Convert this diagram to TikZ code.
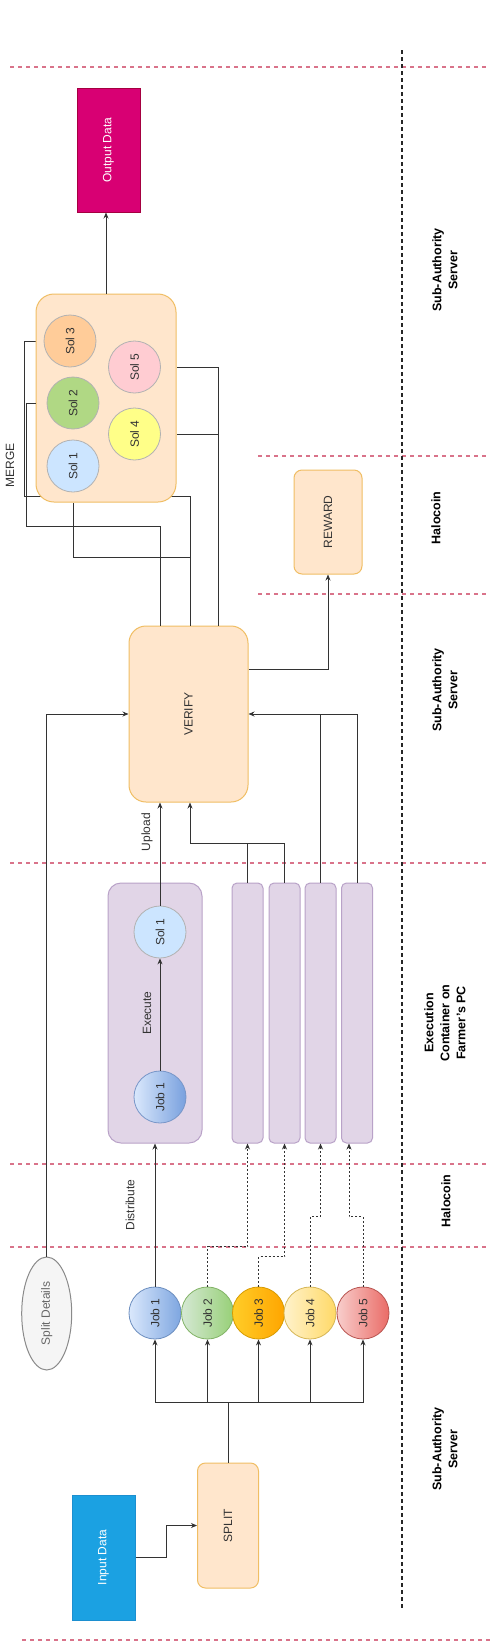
\documentclass[tikz,border=0pt]{standalone}
\usepackage{fontspec}
\setmainfont{Liberation Sans}
\usepackage{graphicx}
\usetikzlibrary{arrows.meta,backgrounds,shapes.geometric}
\definecolor{txt}{HTML}{333333}
\definecolor{outFill}{HTML}{D80073}
\definecolor{outDraw}{HTML}{A50040}
\definecolor{inFill}{HTML}{1BA1E2}
\definecolor{inDraw}{HTML}{1C8FD0}
\definecolor{orFill}{HTML}{FFE6CC}
\definecolor{orDraw}{HTML}{F0BE64}
\definecolor{puFill}{HTML}{E1D5E7}
\definecolor{puDraw}{HTML}{B9A2C8}
\definecolor{redDash}{HTML}{D9738A}
\definecolor{sdFill}{HTML}{F5F5F5}
\definecolor{sdDraw}{HTML}{8A8A8A}
\begin{document}
\begin{tikzpicture}[x=1pt,y=-1pt,
  conn/.style={draw=txt, line width=0.9pt},
  arr/.style={conn, -{Stealth[length=6pt,width=5pt]}},
  dsh/.style={draw=txt, line width=0.8pt, dash pattern=on 2pt off 2pt, -{Stealth[length=6pt,width=5pt]}},
  box/.style={draw, line width=1pt, inner sep=0pt, font=\fontsize{12}{14}\selectfont, text=txt},
  jobc/.style={circle, draw, minimum size=52pt, inner sep=0pt, line width=0.8pt, font=\fontsize{12}{14}\selectfont, text=txt},
  solc/.style={circle, draw=black!30, minimum size=52pt, inner sep=0pt, line width=0.8pt, font=\fontsize{12}{14}\selectfont, text=txt},
  lbl/.style={rotate=90, inner sep=0pt, font=\fontsize{12}{14}\selectfont, text=txt},
  side/.style={rotate=90, inner sep=0pt, align=center, font=\bfseries\fontsize{12.5}{16}\selectfont, text=black},
  reddash/.style={draw=redDash, line width=1.6pt, dash pattern=on 4pt off 4pt},
  blackdash/.style={draw=black!85, line width=1.6pt, dash pattern=on 3.5pt off 3.5pt}
]
\useasboundingbox (0,0) rectangle (495,1649);

% swimlane separators
\draw[reddash] (10,67) -- (488,67);
\draw[reddash] (258,456) -- (487,456);
\draw[reddash] (258,594) -- (487,594);
\draw[reddash] (10,863) -- (488,863);
\draw[reddash] (10,1164) -- (488,1164);
\draw[reddash] (10,1247) -- (488,1247);
\draw[reddash] (22,1640) -- (490,1640);
\draw[blackdash] (402,50) -- (402,1608);

% lane labels
\node[side] (l1) at (445,270) {Sub-Authority\\Server};
\node[side] (l2) at (436,518) {Halocoin};
\node[side] (l3) at (445,690) {Sub-Authority\\Server};
\node[side] (l4) at (445,1023) {Execution\\Container on\\Farmer's PC};
\node[side] (l5) at (446,1201) {Halocoin};
\node[side] (l6) at (445,1449) {Sub-Authority\\Server};

% nodes
\node[box, fill=outFill, draw=outDraw, text=white, minimum width=63pt, minimum height=124pt] (out) at (108.5,150) {\rotatebox{90}{Output Data}};
\node[box, fill=orFill, draw=orDraw, rounded corners=18pt, minimum width=140pt, minimum height=208pt] (merge) at (106,398) {};
\node[solc, fill={rgb,255:red,255;green,204;blue,153}] (ms3) at (70,341) {\rotatebox{90}{Sol 3}};
\node[solc, fill={rgb,255:red,176;green,216;blue,132}] (ms2) at (73,403) {\rotatebox{90}{Sol 2}};
\node[solc, fill={rgb,255:red,204;green,229;blue,255}] (ms1) at (73,466) {\rotatebox{90}{Sol 1}};
\node[solc, fill={rgb,255:red,255;green,204;blue,210}] (ms5) at (134.5,367) {\rotatebox{90}{Sol 5}};
\node[solc, fill={rgb,255:red,255;green,255;blue,136}] (ms4) at (134.5,434) {\rotatebox{90}{Sol 4}};
\node[lbl] (mergelbl) at (10,465) {MERGE};

\node[box, fill=orFill, draw=orDraw, rounded corners=8pt, minimum width=68pt, minimum height=104pt] (reward) at (328,522) {\rotatebox{90}{REWARD}};
\node[box, fill=orFill, draw=orDraw, rounded corners=17pt, minimum width=119pt, minimum height=176pt] (verify) at (188.5,714) {\rotatebox{90}{VERIFY}};

\node[box, fill=puFill, draw=puDraw, rounded corners=13pt, minimum width=94pt, minimum height=260pt] (exec) at (155,1013) {};
\node[jobc, draw={rgb,255:red,120;green,150;blue,200}, left color={rgb,255:red,218;green,232;blue,252}, right color={rgb,255:red,120;green,160;blue,222}] (ij1) at (160,1097) {\rotatebox{90}{Job 1}};
\node[solc, fill={rgb,255:red,204;green,229;blue,255}] (is1) at (160,932) {\rotatebox{90}{Sol 1}};
\node[lbl] (exlbl) at (147,1013) {Execute};
\node[lbl] (uplbl) at (147,832) {Upload};

\node[box, fill=puFill, draw=puDraw, rounded corners=5pt, minimum width=31pt, minimum height=260pt] (b1) at (247.5,1013) {};
\node[box, fill=puFill, draw=puDraw, rounded corners=5pt, minimum width=31pt, minimum height=260pt] (b2) at (284.5,1013) {};
\node[box, fill=puFill, draw=puDraw, rounded corners=5pt, minimum width=31pt, minimum height=260pt] (b3) at (320.5,1013) {};
\node[box, fill=puFill, draw=puDraw, rounded corners=5pt, minimum width=31pt, minimum height=260pt] (b4) at (357,1013) {};

\node[lbl] (distlbl) at (130,1205) {Distribute};
\node[box, ellipse, fill=sdFill, draw=sdDraw, text=black!60, minimum width=50pt, minimum height=113pt] (sd) at (46.7,1313.5) {\rotatebox{90}{Split Details}};

\node[jobc, draw={rgb,255:red,108;green,142;blue,191}, left color={rgb,255:red,218;green,232;blue,252}, right color={rgb,255:red,126;green,166;blue,224}] (j1) at (155,1313) {\rotatebox{90}{Job 1}};
\node[jobc, draw={rgb,255:red,130;green,179;blue,102}, left color={rgb,255:red,213;green,232;blue,212}, right color={rgb,255:red,151;green,208;blue,119}] (j2) at (207.5,1313) {\rotatebox{90}{Job 2}};
\node[jobc, draw={rgb,255:red,215;green,155;blue,0}, left color={rgb,255:red,255;green,205;blue,40}, right color={rgb,255:red,255;green,165;blue,0}] (j3) at (258.5,1313) {\rotatebox{90}{Job 3}};
\node[jobc, draw={rgb,255:red,214;green,182;blue,86}, left color={rgb,255:red,255;green,242;blue,204}, right color={rgb,255:red,255;green,217;blue,102}] (j4) at (310,1313) {\rotatebox{90}{Job 4}};
\node[jobc, draw={rgb,255:red,184;green,84;blue,80}, left color={rgb,255:red,248;green,206;blue,204}, right color={rgb,255:red,234;green,107;blue,102}] (j5) at (363,1313) {\rotatebox{90}{Job 5}};

\node[box, fill=orFill, draw=orDraw, rounded corners=8pt, minimum width=61pt, minimum height=125pt] (split) at (228,1525.5) {\rotatebox{90}{SPLIT}};
\node[box, fill=inFill, draw=inDraw, text=white, minimum width=63pt, minimum height=125pt] (inp) at (103.5,1557.5) {\rotatebox{90}{Input Data}};
\coordinate (bus) at (228,1402);
\coordinate (m12) at (190,843);

% connectors
\draw[arr] (inp.east) -- ++(31,0) |- (split.west);
\draw[conn] (split.north) -- (bus);
\draw[arr] (bus) -| (j1.south);
\draw[arr] (bus) -| (j2.south);
\draw[arr] (bus) -| (j3.south);
\draw[arr] (bus) -| (j4.south);
\draw[arr] (bus) -| (j5.south);

\draw[arr] (j1.north) -- (j1.north |- exec.south);
\draw[dsh] (j2.north) -- ++(0,-40) -| (b1.south);
\draw[dsh] (j3.north) -- ++(0,-30) -| (b2.south);
\draw[dsh] (j4.north) -- ++(0,-70) -| (b3.south);
\draw[dsh] (j5.north) -- ++(0,-70) -| ([xshift=-8pt]b4.south);

\draw[arr] (ij1.north) -- (is1.south);
\draw[arr] (is1.north) -- (is1.north |- verify.south);
\draw[conn] (b1.north) -- (b1.north |- m12);
\draw[arr] (b2.north) |- (m12) -- (m12 |- verify.south);
\draw[conn] (b3.north) -- (b3.north |- verify.east);
\draw[arr] (b4.north) |- (verify.east);
\draw[arr] (sd.north) |- (verify.west);
\draw[arr] ([yshift=45pt]verify.east) -| (reward.south);

\begin{pgfonlayer}{background}
\fill[white] (0,0) rectangle (495,1649);
\draw[conn] ([xshift=1.5pt]verify.north) -- ++(0,-129) -- ++(-166,0) |- (merge.west |- ms3);
\end{pgfonlayer}
\draw[conn] ([xshift=-28.5pt]verify.north) -- ++(0,-99) -- ++(-134,0) |- (merge.west |- ms2);
\draw[conn] ([xshift=1.5pt]verify.north) -- ++(0,-68) -| (ms1 |- merge.south);
\draw[conn] ([xshift=29.5pt]verify.north) |- (merge.east |- ms4);
\draw[conn] ([xshift=29.5pt]verify.north) |- (merge.east |- ms5);
\draw[arr] (merge.north) -- (merge.north |- out.south);
\end{tikzpicture}
\end{document}
